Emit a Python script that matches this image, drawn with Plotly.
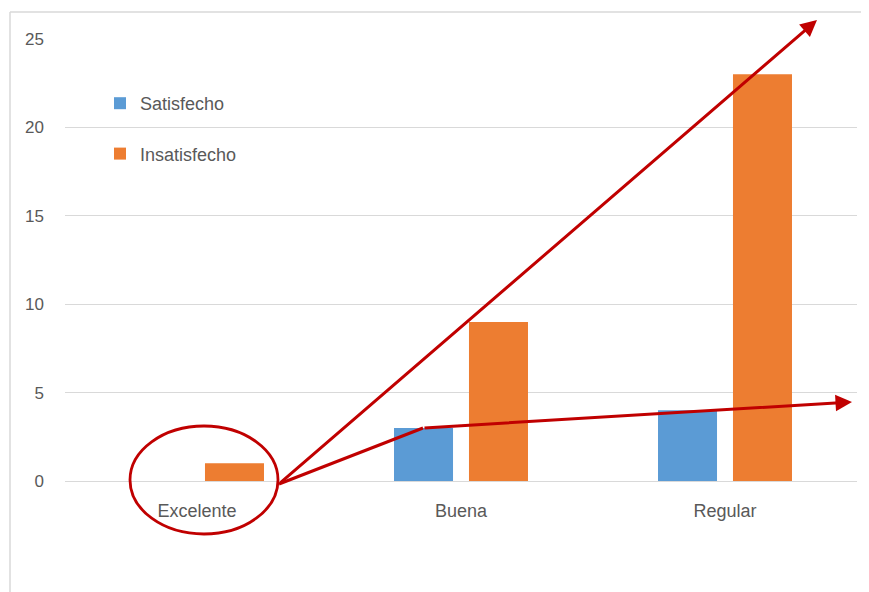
import plotly.graph_objects as go

categories = ["Excelente", "Buena", "Regular"]
satisfecho = [0, 3, 4]
insatisfecho = [1, 9, 23]
series_names = ["Satisfecho", "Insatisfecho"]
y_ticks = [0, 5, 10, 15, 20, 25]

BLUE = "#5B9BD5"
ORANGE = "#ED7D31"
RED = "#C00000"
GRID = "#D9D9D9"
TXT = "#595959"
FONT = "Liberation Sans"

# page has an 8px body margin; figure coordinates = page coordinates - 8
OFF = 8
W, H = 869 - OFF, 592 - OFF
L, R, T, B = 65 - OFF, 869 - 857, 39 - OFF, 592 - 481

fig = go.Figure()
fig.add_trace(go.Bar(x=categories, y=satisfecho, name=series_names[0],
                     marker=dict(color=BLUE, line=dict(width=0)),
                     legendgroup="a"))
fig.add_trace(go.Bar(x=categories, y=insatisfecho, name=series_names[1],
                     marker=dict(color=ORANGE, line=dict(width=0)),
                     legendgroup="b"))

# page pixel -> paper helpers for decorations
pw, ph = 857 - 65, 481 - 39
def px(x):
    return (x - 65) / pw
def py(y):
    return (481 - y) / ph

shapes = [
    # outer frame (left and top edges visible)
    dict(type="line", xref="paper", yref="paper", x0=px(10), x1=px(10),
         y0=py(12), y1=py(610), line=dict(color=GRID, width=1.5), layer="below"),
    dict(type="line", xref="paper", yref="paper", x0=px(10), x1=px(890),
         y0=py(12), y1=py(12), line=dict(color=GRID, width=1.5), layer="below"),
    # ellipse around Excelente
    dict(type="circle", xref="paper", yref="paper", x0=px(130), x1=px(278),
         y0=py(534), y1=py(426), line=dict(color=RED, width=2.8)),
    # first segment of lower arrow
    dict(type="line", xref="paper", yref="paper", x0=px(279), y0=py(484),
         x1=px(423), y1=py(428), line=dict(color=RED, width=3)),
]

annotations = [
    dict(x=px(817), y=py(20), ax=279 - 817, ay=484 - 20, xref="paper", yref="paper",
         axref="pixel", ayref="pixel", text="", showarrow=True, arrowhead=2,
         arrowsize=1.1, arrowwidth=3, arrowcolor=RED),
    dict(x=px(852), y=py(402), ax=423 - 852, ay=428 - 402, xref="paper", yref="paper",
         axref="pixel", ayref="pixel", text="", showarrow=True, arrowhead=2,
         arrowsize=1.1, arrowwidth=3, arrowcolor=RED),
]

fig.update_layout(
    width=W, height=H, autosize=False,
    margin=dict(l=L, r=R, t=T, b=B, pad=0),
    paper_bgcolor="white", plot_bgcolor="white",
    font=dict(family=FONT, size=17, color=TXT),
    barmode="group", bargap=0.432, bargroupgap=0.213,
    showlegend=True,
    legend=dict(x=px(100), y=py(85), xanchor="left", yanchor="top",
                bgcolor="rgba(0,0,0,0)", traceorder="grouped",
                tracegroupgap=24, itemwidth=30,
                font=dict(family=FONT, size=18, color=TXT)),
    xaxis=dict(range=[-0.5, 2.5], showgrid=False, showline=False, ticks="",
               zeroline=False, ticklabelstandoff=17,
               tickfont=dict(family=FONT, size=18, color=TXT)),
    yaxis=dict(range=[0, 25], tickvals=y_ticks, showgrid=True, gridcolor=GRID,
               gridwidth=1, zeroline=True, zerolinecolor=GRID, zerolinewidth=1,
               showline=False, ticks="", ticklabelstandoff=20,
               tickfont=dict(family=FONT, size=17, color=TXT)),
    shapes=shapes,
    annotations=annotations,
)

fig.write_html("out.html")
